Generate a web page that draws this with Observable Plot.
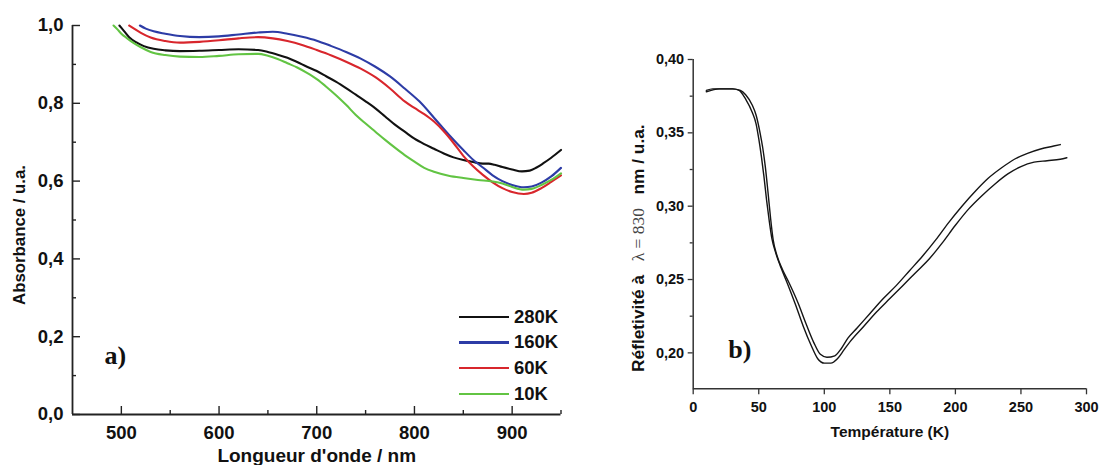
<!DOCTYPE html>
<html>
<head>
<meta charset="utf-8">
<script src="https://cdn.jsdelivr.net/npm/d3@7"></script>
<script src="https://cdn.jsdelivr.net/npm/@observablehq/plot@0.6"></script>
<style>
  body { margin: 0; background: #fff; }
  #wrap { position: relative; width: 1102px; height: 465px; overflow: hidden; background: #fff;
          font-family: "Liberation Sans", Arial, sans-serif; }
  #wrap svg { position: absolute; top: 0; overflow: visible; }
  #legend { position: absolute; left: 459px; top: 304px; }
  .row { display: flex; align-items: center; height: 25.7px; }
  .swatch { width: 50px; height: 2.2px; margin-right: 5px; }
  .lab { font: bold 18.5px "Liberation Sans", Arial, sans-serif; color: #111; line-height: 1; }
</style>
</head>
<body>
<div id="wrap"></div>
<script>
// ---------- Panel a : absorbance spectra ----------
const aSeries = ["280K", "160K", "60K", "10K"];
const aColors = ["#111111", "#2d3ca6", "#d8262c", "#62c443"];

const wl280  = [498,503,508,515,523,533,545,560,580,600,620,640,650,660,670,680,690,700,710,720,730,740,750,760,770,780,790,800,810,820,830,840,850,860,870,876,882,890,900,910,918,925,932,940,950];
const abs280 = [1.000,0.985,0.970,0.957,0.947,0.940,0.936,0.934,0.935,0.937,0.939,0.937,0.932,0.925,0.917,0.906,0.894,0.883,0.869,0.855,0.839,0.822,0.805,0.787,0.766,0.745,0.727,0.709,0.695,0.683,0.671,0.661,0.654,0.649,0.645,0.645,0.642,0.636,0.630,0.625,0.627,0.635,0.646,0.660,0.680];

const wl160  = [519,525,533,545,560,580,600,620,640,655,670,685,700,715,730,745,760,775,790,805,820,835,850,860,870,880,890,900,912,920,930,940,950];
const abs160 = [1.000,0.992,0.985,0.979,0.973,0.970,0.972,0.977,0.982,0.984,0.979,0.971,0.961,0.947,0.932,0.915,0.894,0.869,0.838,0.805,0.763,0.720,0.680,0.655,0.635,0.615,0.600,0.590,0.584,0.586,0.596,0.612,0.634];

const wl60   = [508,513,520,530,545,560,580,600,620,640,655,670,685,700,715,730,745,760,775,790,800,810,820,830,840,850,860,870,880,890,900,912,920,930,940,950];
const abs60  = [1.000,0.992,0.981,0.969,0.960,0.956,0.958,0.962,0.967,0.970,0.967,0.960,0.950,0.937,0.923,0.907,0.889,0.867,0.838,0.805,0.788,0.772,0.753,0.728,0.698,0.665,0.638,0.616,0.597,0.582,0.572,0.567,0.570,0.582,0.598,0.615];

const wl10   = [492,496,500,506,512,520,530,545,560,580,600,620,640,650,660,670,680,690,700,710,720,730,740,750,760,770,780,790,800,810,820,835,850,865,880,890,900,912,920,930,940,950];
const abs10  = [1.000,0.990,0.979,0.967,0.956,0.944,0.932,0.924,0.920,0.919,0.922,0.926,0.927,0.922,0.914,0.903,0.892,0.878,0.862,0.842,0.820,0.796,0.770,0.748,0.727,0.706,0.686,0.667,0.650,0.634,0.624,0.614,0.608,0.603,0.599,0.594,0.585,0.578,0.580,0.590,0.603,0.620];

const aXDomain = [450, 950];
const aYDomain = [0, 1.0];
const aXMajor = [500, 600, 700, 800, 900];
const aXLabels = ["500", "600", "700", "800", "900"];
const aXMinor = [550, 650, 750, 850, 950];
const aYMajor = [0, 0.2, 0.4, 0.6, 0.8, 1.0];
const aYLabels = ["0,0", "0,2", "0,4", "0,6", "0,8", "1,0"];
const aYMinor = [0.1, 0.3, 0.5, 0.7, 0.9];
const aXTitle = "Longueur d'onde / nm";
const aYTitle = "Absorbance / u.a.";
const aTag = "a)";

// ---------- Panel b : reflectivity vs temperature ----------
const bSeries = ["branche 1", "branche 2"];
const tB1 = [10,15,20,25,30,35,40,45,48,50,52,54,56,58,60,63,67,72,78,84,90,95,100,105,110,115,120,130,140,150,160,170,180,190,200,210,220,230,240,250,260,270,280,285];
const rB1 = [0.379,0.380,0.380,0.380,0.380,0.379,0.373,0.364,0.356,0.346,0.334,0.320,0.304,0.290,0.278,0.268,0.258,0.247,0.233,0.218,0.205,0.196,0.193,0.193,0.196,0.202,0.208,0.218,0.228,0.237,0.246,0.255,0.264,0.275,0.287,0.298,0.307,0.315,0.322,0.327,0.330,0.331,0.332,0.333];
const tB2 = [10,20,30,36,40,45,48,51,53,55,57,59,61,64,68,73,80,86,92,97,102,108,113,118,125,135,145,155,165,175,185,195,205,215,225,235,245,255,265,275,280];
const rB2 = [0.378,0.380,0.380,0.379,0.376,0.369,0.362,0.350,0.340,0.327,0.310,0.292,0.277,0.266,0.257,0.248,0.234,0.220,0.207,0.199,0.197,0.198,0.203,0.210,0.217,0.227,0.237,0.246,0.256,0.266,0.277,0.289,0.300,0.310,0.319,0.326,0.332,0.336,0.339,0.341,0.342];

const bXDomain = [0, 300];
const bYDomain = [0.1755, 0.40];
const bXMajor = [0, 50, 100, 150, 200, 250, 300];
const bXLabels = ["0", "50", "100", "150", "200", "250", "300"];
const bYMajor = [0.20, 0.25, 0.30, 0.35, 0.40];
const bYLabels = ["0,20", "0,25", "0,30", "0,35", "0,40"];
const bYMinor = [0.225, 0.275, 0.325, 0.375];
const bXTitle = "Température (K)";
const bYTitleParts = ["Réfletivité à ", "\u2002λ = 830\u2002", " nm / u.a."];
const bTag = "b)";

// ---------- build tables ----------
const aTable = [];
[[wl280, abs280], [wl160, abs160], [wl60, abs60], [wl10, abs10]].forEach(([xs, ys], k) => {
  xs.forEach((x, i) => aTable.push({series: aSeries[k], wl: x, abs: ys[i]}));
});
const bTable = [];
[[tB1, rB1], [tB2, rB2]].forEach(([xs, ys], k) => {
  xs.forEach((x, i) => bTable.push({series: bSeries[k], t: x, r: ys[i]}));
});

const baseStyle = {fontFamily: "'Liberation Sans', Arial, sans-serif", fontWeight: "bold", color: "#111", background: "transparent", overflow: "visible"};

// layout of panel a
const A = {w: 570, h: 465, ml: 72, mr: 9.5, mt: 25, mb: 51};
const aFW = A.w - A.ml - A.mr, aFH = A.h - A.mt - A.mb;
const plotA = Plot.plot({
  width: A.w, height: A.h,
  marginLeft: A.ml, marginRight: A.mr, marginTop: A.mt, marginBottom: A.mb,
  x: {domain: aXDomain},
  y: {domain: aYDomain},
  color: {domain: aSeries, range: aColors},
  style: {...baseStyle, fontSize: "18.5px"},
  marks: [
    Plot.axisX({ticks: aXMajor, tickSize: 0, tickPadding: 11, tickFormat: d => aXLabels[aXMajor.indexOf(d)], label: null, fontSize: 18.5, fontWeight: "bold"}),
    Plot.axisY({ticks: aYMajor, tickSize: 0, tickPadding: 9, tickFormat: d => aYLabels[aYMajor.indexOf(d)], label: null, fontSize: 18.5, fontWeight: "bold"}),
    // inward ticks
    Plot.tickX(aXMajor, {x: d => d, insetTop: aFH - 8, stroke: "#222", strokeWidth: 1.4}),
    Plot.tickX(aXMinor, {x: d => d, insetTop: aFH - 4, stroke: "#222", strokeWidth: 1.4}),
    Plot.tickY(aYMajor, {y: d => d, insetRight: aFW - 8, stroke: "#222", strokeWidth: 1.4}),
    Plot.tickY(aYMinor, {y: d => d, insetRight: aFW - 4, stroke: "#222", strokeWidth: 1.4}),
    Plot.ruleY([aYDomain[0]], {stroke: "#222", strokeWidth: 1.8}),
    Plot.ruleX([aXDomain[0]], {stroke: "#222", strokeWidth: 1.8}),
    Plot.line(aTable, {x: "wl", y: "abs", z: "series", stroke: "series", strokeWidth: 2.1, curve: "monotone-x"}),
    Plot.text([aXTitle], {frameAnchor: "bottom", dy: 41, lineAnchor: "middle", fontSize: 19, fontWeight: "bold", fill: "#111"}),
    Plot.text([aYTitle], {frameAnchor: "left", textAnchor: "middle", dx: -53, dy: 15, rotate: -90, lineAnchor: "middle", fontSize: 16.8, fontWeight: "bold", fill: "#111"}),
    Plot.text([aTag], {frameAnchor: "bottom-left", dx: 32, dy: -59, textAnchor: "start", lineAnchor: "middle", fontSize: 26, fontWeight: "bold", fontFamily: "'Liberation Serif', 'Times New Roman', serif", fill: "#111"})
  ]
});
plotA.style.left = "0px";

// layout of panel b
const B = {w: 522, h: 465, ml: 112.7, mr: 16, mt: 59, mb: 76.7};
const bFW = B.w - B.ml - B.mr, bFH = B.h - B.mt - B.mb;
const plotB = Plot.plot({
  width: B.w, height: B.h,
  marginLeft: B.ml, marginRight: B.mr, marginTop: B.mt, marginBottom: B.mb,
  x: {domain: bXDomain},
  y: {domain: bYDomain},
  style: {...baseStyle, fontSize: "14.5px"},
  marks: [
    Plot.axisX({ticks: bXMajor, tickSize: 0, tickPadding: 13, tickFormat: d => bXLabels[bXMajor.indexOf(d)], label: null, fontSize: 14.5, fontWeight: "bold"}),
    Plot.axisY({ticks: bYMajor, tickSize: 0, tickPadding: 9, tickFormat: d => bYLabels[bYMajor.indexOf(d)], label: null, fontSize: 14.5, fontWeight: "bold"}),
    // outward ticks (short ticks shifted outside the frame)
    Plot.tickX(bXMajor, {x: d => d, insetTop: bFH - 6, dy: 6, stroke: "#333", strokeWidth: 1.3}),
    Plot.tickY(bYMajor, {y: d => d, insetRight: bFW - 5, dx: -5, stroke: "#333", strokeWidth: 1.3}),
    Plot.tickY(bYMinor, {y: d => d, insetRight: bFW - 3, dx: -3, stroke: "#333", strokeWidth: 1.3}),
    Plot.ruleY([bYDomain[0]], {stroke: "#333", strokeWidth: 1.5}),
    Plot.ruleX([bXDomain[0]], {stroke: "#333", strokeWidth: 1.5}),
    Plot.line(bTable, {x: "t", y: "r", z: "series", stroke: "#151515", strokeWidth: 1.4, curve: "monotone-x"}),
    Plot.text([bXTitle], {frameAnchor: "bottom", dy: 43, lineAnchor: "middle", fontSize: 15.5, fontWeight: "bold", fill: "#111"}),
    Plot.text([bYTitleParts.join("")], {frameAnchor: "left", textAnchor: "middle", dx: -55, dy: 24, rotate: -90, lineAnchor: "middle", fontSize: 17.3, fontWeight: "bold", fill: "#111"}),
    Plot.text([bTag], {frameAnchor: "bottom-left", dx: 35, dy: -39, textAnchor: "start", lineAnchor: "middle", fontSize: 26, fontWeight: "bold", fontFamily: "'Liberation Serif', 'Times New Roman', serif", fill: "#111"})
  ]
});
plotB.style.left = "580px";

// mixed-font y title for panel b
d3.select(plotB).selectAll("text").filter(function() { return this.textContent === bYTitleParts.join(""); })
  .each(function() {
    const t = d3.select(this);
    t.text(null);
    t.append("tspan").text(bYTitleParts[0]);
    t.append("tspan").attr("font-family", "'Liberation Serif', 'Times New Roman', serif")
      .attr("font-weight", "normal").attr("fill", "#444").attr("font-size", 17.5).text(bYTitleParts[1]);
    t.append("tspan").text(bYTitleParts[2]);
  });

const wrap = document.getElementById("wrap");
wrap.appendChild(plotA);
wrap.appendChild(plotB);

// legend for panel a
const legend = document.createElement("div");
legend.id = "legend";
aSeries.forEach((s, i) => {
  const row = document.createElement("div");
  row.className = "row";
  const sw = document.createElement("span");
  sw.className = "swatch";
  sw.style.background = aColors[i];
  const lab = document.createElement("span");
  lab.className = "lab";
  lab.textContent = s;
  row.appendChild(sw);
  row.appendChild(lab);
  legend.appendChild(row);
});
wrap.appendChild(legend);
</script>
</body>
</html>
